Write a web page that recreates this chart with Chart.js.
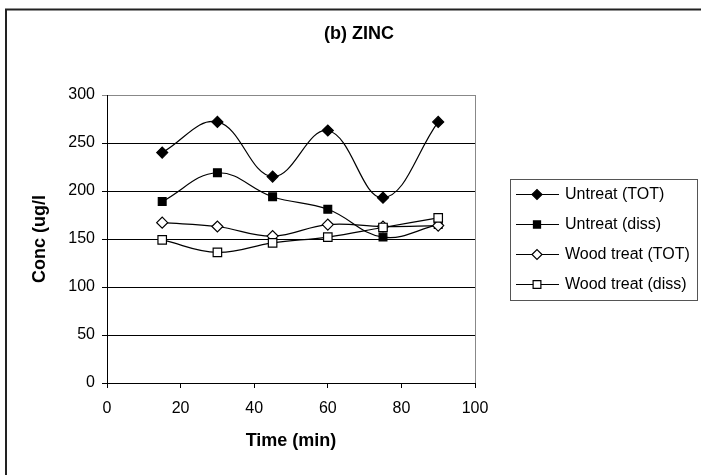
<!DOCTYPE html>
<html>
<head>
<meta charset="utf-8">
<script src="https://cdn.jsdelivr.net/npm/chart.js@4/dist/chart.umd.min.js"></script>
<style>
  html, body { margin: 0; padding: 0; background: #fff; }
  #wrap { width: 701px; height: 475px; position: relative; }
</style>
</head>
<body>
<div id="wrap"><canvas id="chart"></canvas></div>
<script>
// data
const times = [15, 30, 45, 60, 75, 90];
const untreatTot = [240, 272, 215, 263, 193, 272];
const untreatDiss = [189, 219, 194, 181, 152, 165];
const woodTot = [167, 163, 153, 165, 163, 164];
const woodDiss = [149, 136, 146, 152, 162, 172];
const seriesNames = ['Untreat (TOT)', 'Untreat (diss)', 'Wood treat (TOT)', 'Wood treat (diss)'];
const yTicks = [0, 50, 100, 150, 200, 250, 300];
const xTicks = [0, 20, 40, 60, 80, 100];
const chartTitle = '(b) ZINC';

const FONT = "'Liberation Sans', Arial, sans-serif";

const pts = arr => arr.map((v, i) => ({ x: times[i], y: v }));
const styles = [
  { pointStyle: 'rectRot', bg: '#000', r: 5.5 },
  { pointStyle: 'rect', bg: '#000', r: 5.5 },
  { pointStyle: 'rectRot', bg: '#fff', r: 5.5 },
  { pointStyle: 'rect', bg: '#fff', r: 6 }
];
const allSeries = [untreatTot, untreatDiss, woodTot, woodDiss];

const datasets = allSeries.map((s, i) => ({
  label: seriesNames[i],
  data: pts(s),
  borderColor: '#000',
  borderWidth: 1.2,
  tension: 0.4,
  pointStyle: styles[i].pointStyle,
  pointRadius: styles[i].r,
  pointBackgroundColor: styles[i].bg,
  pointBorderColor: '#000',
  pointBorderWidth: 1.2,
  order: 3 - i
}));

// white page, outer frame, title, right border of plot, legend box
const decor = {
  id: 'decor',
  beforeDraw(chart) {
    const c = chart.ctx;
    c.save();
    c.fillStyle = '#fff';
    c.fillRect(0, 0, chart.width, chart.height);
    c.restore();
  },
  afterDraw(chart) {
    const c = chart.ctx, a = chart.chartArea;
    c.save();
    // outer frame
    c.strokeStyle = '#222';
    c.lineWidth = 2;
    c.beginPath();
    c.moveTo(6, chart.height);
    c.lineTo(6, 9.5);
    c.lineTo(chart.width, 9.5);
    c.stroke();
    // title
    c.fillStyle = '#000';
    c.font = 'bold 18px ' + FONT;
    c.textAlign = 'center';
    c.textBaseline = 'middle';
    c.fillText(chartTitle, 359, 34);
    c.textAlign = 'left';
    // plot area right border
    c.strokeStyle = '#888';
    c.lineWidth = 1;
    c.beginPath();
    c.moveTo(Math.round(a.right) + 0.5, a.top);
    c.lineTo(Math.round(a.right) + 0.5, a.bottom);
    c.stroke();
    // legend
    c.strokeStyle = '#555';
    c.strokeRect(510.5, 179.5, 187, 121);
    c.font = '16px ' + FONT;
    chart.data.datasets.forEach((ds, i) => {
      const y = 194 + i * 30;
      c.strokeStyle = '#000';
      c.lineWidth = 1.2;
      c.beginPath();
      c.moveTo(516, y + 0.5);
      c.lineTo(559, y + 0.5);
      c.stroke();
      c.fillStyle = ds.pointBackgroundColor;
      c.strokeStyle = '#000';
      Chart.helpers.drawPoint(c, { pointStyle: ds.pointStyle, radius: ds.pointRadius - 0.5, borderWidth: 1.2 }, 537, y + 0.5);
      c.fillStyle = '#000';
      c.fillText(ds.label, 565, y + 1);
    });
    c.restore();
  }
};

new Chart(document.getElementById('chart'), {
  type: 'line',
  data: { datasets },
  options: {
    responsive: true,
    maintainAspectRatio: false,
    animation: false,
    layout: { padding: { left: 0, right: 226, top: 95, bottom: 0 } },
    plugins: {
      legend: { display: false },
      tooltip: { enabled: false },
      title: { display: false }
    },
    scales: {
      x: {
        type: 'linear',
        min: xTicks[0],
        max: xTicks[xTicks.length - 1],
        afterBuildTicks: s => { s.ticks = xTicks.map(v => ({ value: v })); },
        afterFit: s => { s.height = 92; },
        ticks: { color: '#000', font: { family: FONT, size: 16 }, padding: 11, maxRotation: 0 },
        grid: { drawOnChartArea: false, color: '#000', tickLength: 5 },
        border: { color: '#000', width: 1 },
        title: {
          display: true,
          text: 'Time (min)',
          color: '#000',
          font: { family: FONT, size: 18, weight: 'bold' },
          padding: { top: 0, bottom: 23 }
        }
      },
      y: {
        min: yTicks[0],
        max: yTicks[yTicks.length - 1],
        afterBuildTicks: s => { s.ticks = yTicks.map(v => ({ value: v })); },
        afterFit: s => { s.width = 107; },
        ticks: { color: '#000', font: { family: FONT, size: 16 }, padding: 7 },
        grid: {
          color: ctx => (ctx.tick && ctx.tick.value === 300 ? '#888' : '#000'),
          tickLength: 5
        },
        border: { color: '#000', width: 1 },
        title: {
          display: true,
          text: 'Conc (ug/l',
          color: '#000',
          font: { family: FONT, size: 18, weight: 'bold' },
          padding: { top: 29, bottom: 0 }
        }
      }
    }
  },
  plugins: [decor]
});
</script>
</body>
</html>
